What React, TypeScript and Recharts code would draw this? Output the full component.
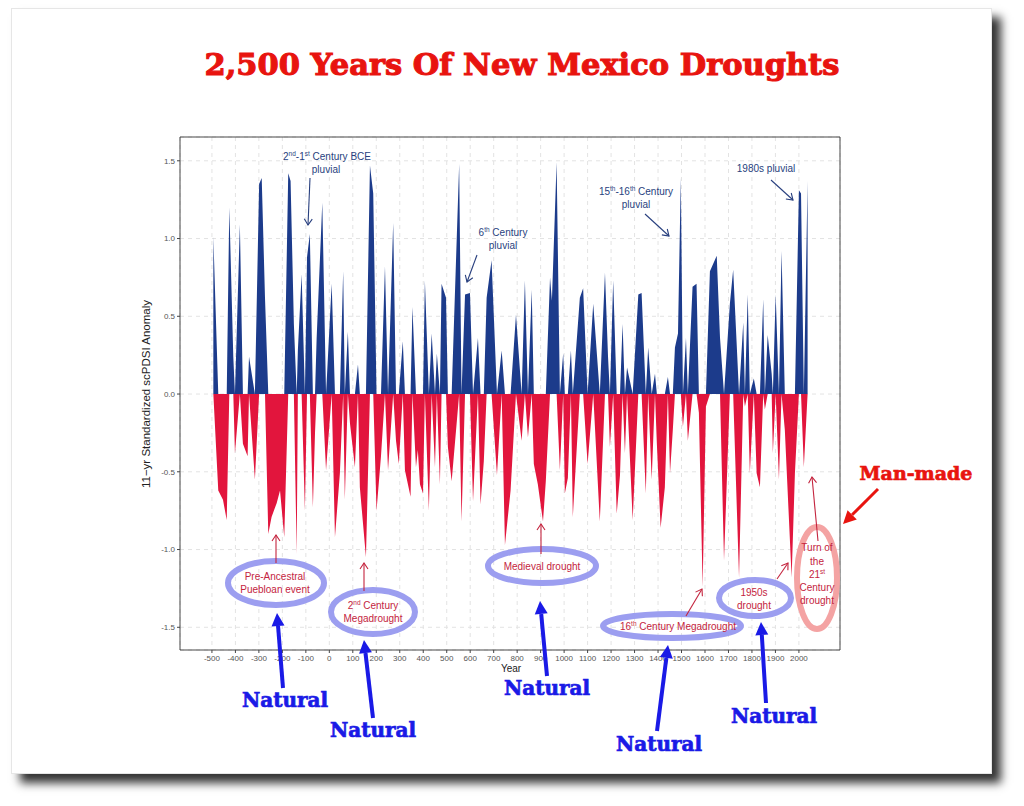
import React from 'react';
import { AreaChart, Area, XAxis, YAxis, CartesianGrid, ReferenceArea } from 'recharts';

const YEARS = [
  -494, -473, -453, -437, -426, -409, -402, -381, -368, -348, -342, -317, -299, -288, -274, -260, -246, -224, -210, -192,
  -175, -165, -151, -139, -134, -118, -104, -95, -83, -70, -61, -54, -30, -14, 10, 24, 45, 59, 66, 79,
  88, 109, 122, 130, 156, 173, 187, 201, 220, 237, 250, 272, 284, 296, 313, 322, 346, 354, 369, 377,
  386, 399, 407, 424, 436, 450, 458, 471, 478, 497, 505, 521, 553, 563, 578, 599, 612, 633, 644, 658,
  670, 691, 714, 734, 748, 772, 795, 819, 833, 846, 862, 871, 888, 910, 922, 940, 948, 968, 982, 996,
  1003, 1016, 1029, 1037, 1067, 1081, 1100, 1124, 1152, 1174, 1187, 1195, 1209, 1224, 1238, 1249, 1259, 1268, 1292, 1316,
  1330, 1348, 1358, 1373, 1387, 1395, 1411, 1429, 1442, 1451, 1463, 1472, 1485, 1497, 1506, 1519, 1527, 1547, 1564, 1574,
  1590, 1604, 1621, 1650, 1664, 1681, 1706, 1720, 1745, 1763, 1770, 1782, 1791, 1808, 1820, 1834, 1848, 1855, 1867, 1884,
  1889, 1901, 1915, 1926, 1940, 1969, 1983, 2000, 2009, 2021, 2037,
];

const VALUES = [
  1.01, -0.62, -0.68, -0.81, 1.2, 0.24, -0.38, 1.09, -0.32, -0.4, 0.24, -0.55, 1.35, 1.39, 0.62, -0.9, -0.79, -0.7, -0.62, -0.92,
  1.42, 1.37, 0.45, -1.03, 0.28, 0.77, -0.75, 0.88, 1.03, -0.73, -0.25, 0.36, 1.23, -0.49, 0.71, -0.92, -0.51, 0.79, -0.68, 0.4,
  -0.19, -0.47, 0.19, -0.6, -1.05, 1.47, 1.29, -0.75, -0.4, 0.82, -0.49, 1.1, -0.3, -0.45, 0.34, -0.49, -0.66, 0.56, -0.47, -0.36,
  -0.58, -0.64, 0.73, -0.75, 0.39, -0.47, 0.26, -0.58, 0.71, 0.62, -0.34, -0.56, 1.48, -0.82, 0.64, 0.65, -0.69, 0.36, -0.71, -0.43,
  0.62, 0.86, -0.52, 0.28, -0.97, -0.62, 0.51, -0.3, 0.73, -0.28, 0.67, -0.45, -0.58, -0.82, -0.56, 0.75, 0.6, 1.49, -0.49, 0.26,
  -0.64, -0.54, 0.28, -0.79, 0.62, 0.68, -0.45, 0.58, -0.82, 0.78, 0.24, -0.34, 0.73, -0.77, -0.52, 0.45, -0.38, 0.17, -0.81, 0.64,
  0.65, -0.64, 0.3, -0.55, 0.13, -0.32, -0.86, -0.6, 0.11, -0.51, -0.23, 0.3, 0.39, 1.39, -0.21, 0.36, -0.3, 0.69, 0.71, -0.12,
  -1.24, -0.08, 0.79, 0.89, 0.36, -1.07, 0.58, 0.8, -1.18, 0.46, -0.08, 0.64, -0.51, 0.1, -0.51, -0.6, 0.61, -0.1, 0.38, 0.13,
  -0.38, 0.64, -0.55, 0.92, -0.23, -1.18, -0.51, 1.31, 1.29, -0.47, 1.37,
];

const X_TICKS = [-500, -400, -300, -200, -100, 0, 100, 200, 300, 400, 500, 600, 700, 800, 900, 1000, 1100, 1200, 1300, 1400, 1500, 1600, 1700, 1800, 1900, 2000];
const Y_TICKS = [-1.5, -1.0, -0.5, 0.0, 0.5, 1.0, 1.5];
const X_DOMAIN = [-636, 2175];
const Y_DOMAIN = [-1.646, 1.653];

const TITLE = '2,500 Years Of New Mexico Droughts';
const Y_LABEL = '11\u2212yr Standardized scPDSI Anomaly';
const X_LABEL = 'Year';

const BLUE_FILL = '#1c3b8b';
const RED_FILL = '#e2153d';
const BLUE_TXT = '#283f7e';
const RED_TXT = '#c4243e';
const NAT_BLUE = '#1a1ae6';
const TITLE_RED = '#e8140f';
const ELLIPSE = '#9c9ef0';
const PINK = '#f4a3a3';

const data = YEARS.map((year, i) => ({ year, pos: Math.max(VALUES[i], 0), neg: Math.min(VALUES[i], 0) }));

function headPts(x1: number, y1: number, x2: number, y2: number, len: number, hw: number) {
  const dx = x2 - x1, dy = y2 - y1;
  const L = Math.sqrt(dx * dx + dy * dy);
  const ux = dx / L, uy = dy / L;
  const bx = x2 - ux * len, by = y2 - uy * len;
  const px = -uy, py = ux;
  return { a: [bx + px * hw, by + py * hw], b: [bx - px * hw, by - py * hw], base: [bx, by] };
}

function ThinArrow({ x1, y1, x2, y2, color }: any) {
  const h = headPts(x1, y1, x2, y2, 6, 4);
  return (
    <g stroke={color} strokeWidth={1.1} fill="none">
      <line x1={x1} y1={y1} x2={x2} y2={y2} />
      <polyline points={`${h.a[0]},${h.a[1]} ${x2},${y2} ${h.b[0]},${h.b[1]}`} />
    </g>
  );
}

function BigArrow({ x1, y1, x2, y2, color, w = 4 }: any) {
  const h = headPts(x1, y1, x2, y2, 13, 6.5);
  return (
    <g>
      <line x1={x1} y1={y1} x2={h.base[0]} y2={h.base[1]} stroke={color} strokeWidth={w} />
      <polygon points={`${h.a[0]},${h.a[1]} ${x2},${y2} ${h.b[0]},${h.b[1]}`} fill={color} />
    </g>
  );
}

function Sup({ children }: any) {
  return (
    <tspan dy={-4} fontSize={6.5}>{children}</tspan>
  );
}

export default function App() {
  const txt = { fontFamily: 'Liberation Sans, Arial, sans-serif', fontSize: 10, textAnchor: 'middle' as const };
  const nat = { fontFamily: 'DejaVu Serif, serif', fontWeight: 700, fontSize: 20, textAnchor: 'middle' as const, fill: NAT_BLUE, stroke: NAT_BLUE, strokeWidth: 0.7 };
  return (
    <div style={{ position: 'absolute', left: 0, top: 0, width: 1024, height: 806, background: '#fff', overflow: 'hidden' }}>
      <div style={{ position: 'absolute', left: 11, top: 8, width: 979, height: 764, background: '#fff', border: '1px solid #e6e6e6', boxShadow: '9px 9px 9px rgba(0,0,0,0.8)' }} />
      <div style={{ position: 'absolute', left: 0, top: 0 }}>
        <AreaChart width={1024} height={806} data={data} margin={{ top: 137, right: 184, bottom: 126, left: 140 }}>
          <CartesianGrid stroke="#e3e3e3" strokeDasharray="4 4" />
          <XAxis
            dataKey="year"
            type="number"
            domain={X_DOMAIN}
            ticks={X_TICKS}
            allowDataOverflow
            height={30}
            axisLine={false}
            tickSize={3}
            tickLine={{ stroke: '#444' }}
            tick={{ fontSize: 8, fill: '#555', fontFamily: 'Liberation Sans, Arial, sans-serif' }}
            interval={0}
          />
          <YAxis
            type="number"
            domain={Y_DOMAIN}
            ticks={Y_TICKS}
            allowDataOverflow
            width={40}
            axisLine={false}
            tickSize={3}
            tickLine={{ stroke: '#444' }}
            tick={{ fontSize: 8, fill: '#555', fontFamily: 'Liberation Sans, Arial, sans-serif' }}
            tickFormatter={(v: number) => v.toFixed(1)}
            interval={0}
          />
          <Area type="linear" dataKey="pos" baseValue={0} stroke="none" fill={BLUE_FILL} fillOpacity={1} isAnimationActive={false} dot={false} activeDot={false} />
          <Area type="linear" dataKey="neg" baseValue={0} stroke="none" fill={RED_FILL} fillOpacity={1} isAnimationActive={false} dot={false} activeDot={false} />
          <ReferenceArea x1={X_DOMAIN[0]} x2={X_DOMAIN[1]} y1={Y_DOMAIN[0]} y2={Y_DOMAIN[1]} fill="none" stroke="#333" strokeWidth={0.9} ifOverflow="visible" />
        </AreaChart>
      </div>
      <svg width={1024} height={806} style={{ position: 'absolute', left: 0, top: 0, pointerEvents: 'none' }}>
        <text x={522} y={75} textAnchor="middle" fontFamily="DejaVu Serif, serif" fontWeight={700} fontSize={30.5} fill={TITLE_RED} stroke={TITLE_RED} strokeWidth={1.1}>{TITLE}</text>

        <text x={150} y={394} transform="rotate(-90 150 394)" textAnchor="middle" fontFamily="Liberation Sans, Arial, sans-serif" fontSize={11.5} fill="#222">{Y_LABEL}</text>
        <text x={511} y={672} textAnchor="middle" fontFamily="Liberation Sans, Arial, sans-serif" fontSize={10} fill="#222">{X_LABEL}</text>

        {/* pluvial annotations */}
        <g fill={BLUE_TXT} {...txt}>
          <text x={327} y={160}>2<Sup>nd</Sup><tspan dy={4}>-1</tspan><Sup>st</Sup><tspan dy={4}> Century BCE</tspan></text>
          <text x={326} y={173}>pluvial</text>
          <text x={503} y={236}>6<Sup>th</Sup><tspan dy={4}> Century</tspan></text>
          <text x={503} y={249}>pluvial</text>
          <text x={636} y={195}>15<Sup>th</Sup><tspan dy={4}>-16</tspan><Sup>th</Sup><tspan dy={4}> Century</tspan></text>
          <text x={636} y={208}>pluvial</text>
          <text x={766} y={172}>1980s pluvial</text>
        </g>
        <ThinArrow x1={310} y1={178} x2={308} y2={225} color={BLUE_TXT} />
        <ThinArrow x1={477} y1={255} x2={467} y2={282} color={BLUE_TXT} />
        <ThinArrow x1={645} y1={214} x2={669} y2={236} color={BLUE_TXT} />
        <ThinArrow x1={771} y1={180} x2={793} y2={200} color={BLUE_TXT} />

        {/* ellipses */}
        <g fill="none" strokeWidth={6}>
          <ellipse cx={276} cy={583} rx={48} ry={22} stroke={ELLIPSE} />
          <ellipse cx={373} cy={612} rx={42} ry={22} stroke={ELLIPSE} />
          <ellipse cx={542} cy={566} rx={54} ry={17} stroke={ELLIPSE} />
          <ellipse cx={672} cy={626} rx={69} ry={12} stroke={ELLIPSE} />
          <ellipse cx={755} cy={598} rx={36} ry={18} stroke={ELLIPSE} />
          <ellipse cx={817} cy={578} rx={20} ry={51} stroke={PINK} />
        </g>

        {/* drought annotations */}
        <g fill={RED_TXT} {...txt}>
          <text x={275} y={580}>Pre-Ancestral</text>
          <text x={275} y={593}>Puebloan event</text>
          <text x={373} y={609}>2<Sup>nd</Sup><tspan dy={4}> Century</tspan></text>
          <text x={373} y={622}>Megadrought</text>
          <text x={542} y={570}>Medieval drought</text>
          <text x={678} y={630}>16<Sup>th</Sup><tspan dy={4}> Century Megadrought</tspan></text>
          <text x={754} y={596}>1950s</text>
          <text x={754} y={609}>drought</text>
          <text x={817} y={551}>Turn of</text>
          <text x={817} y={565}>the</text>
          <text x={817} y={578}>21<Sup>st</Sup></text>
          <text x={817} y={591}>Century</text>
          <text x={817} y={604}>drought</text>
        </g>
        <ThinArrow x1={276} y1={563} x2={276} y2={535} color={RED_TXT} />
        <ThinArrow x1={364} y1={591} x2={364} y2={563} color={RED_TXT} />
        <ThinArrow x1={541} y1={554} x2={541} y2={524} color={RED_TXT} />
        <ThinArrow x1={686} y1={616} x2={702} y2={589} color={RED_TXT} />
        <ThinArrow x1={777} y1={579} x2={788} y2={563} color={RED_TXT} />
        <ThinArrow x1={818} y1={541} x2={812} y2={477} color={RED_TXT} />

        {/* outer labels */}
        <BigArrow x1={283} y1={688} x2={277} y2={613} color={NAT_BLUE} />
        <BigArrow x1={373} y1={718} x2={364} y2={640} color={NAT_BLUE} />
        <BigArrow x1={547} y1={676} x2={540} y2={601} color={NAT_BLUE} />
        <BigArrow x1={657} y1={731} x2={668} y2={645} color={NAT_BLUE} />
        <BigArrow x1={766} y1={703} x2={761} y2={622} color={NAT_BLUE} />
        <text x={285} y={707} {...nat}>Natural</text>
        <text x={373} y={737} {...nat}>Natural</text>
        <text x={547} y={695} {...nat}>Natural</text>
        <text x={659} y={751} {...nat}>Natural</text>
        <text x={774} y={723} {...nat}>Natural</text>

        <BigArrow x1={878} y1={489} x2={843} y2={524} color={TITLE_RED} w={3} />
        <text x={916} y={480} textAnchor="middle" fontFamily="DejaVu Serif, serif" fontWeight={700} fontSize={19} fill={TITLE_RED} stroke={TITLE_RED} strokeWidth={0.7}>Man-made</text>
      </svg>
    </div>
  );
}
